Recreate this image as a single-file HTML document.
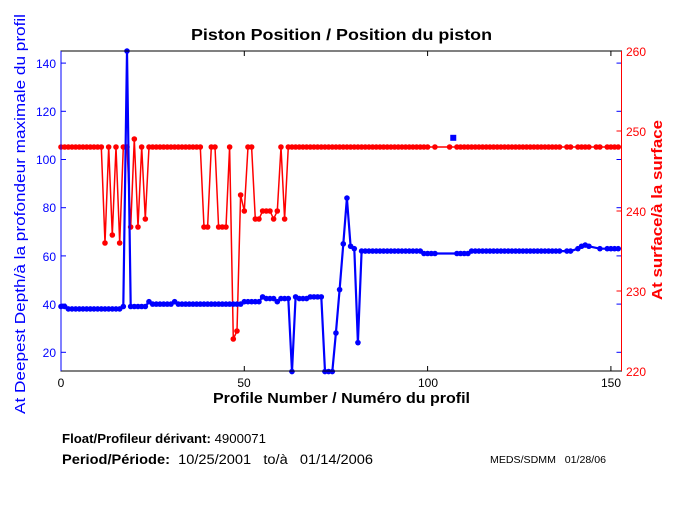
<!DOCTYPE html>
<html><head><meta charset="utf-8"><style>
html,body{margin:0;padding:0;background:#fff;}
body{width:680px;height:500px;overflow:hidden;font-family:"Liberation Sans",Arial,sans-serif;}
</style></head><body>
<svg id="s" width="680" height="500" xmlns="http://www.w3.org/2000/svg" font-family="Liberation Sans, Arial, sans-serif">
<rect width="680" height="500" fill="#fff"/>
<text x="191" y="40" font-size="16" font-weight="bold" textLength="301" lengthAdjust="spacingAndGlyphs">Piston Position / Position du piston</text>
<g id="plot"></g>
<rect x="61" y="51" width="560.5" height="320" fill="none" stroke="#000" stroke-width="1"/>
<line x1="621.5" y1="51" x2="621.5" y2="371" stroke="#f00" stroke-width="1"/>
<line x1="61" y1="51" x2="61" y2="371" stroke="#00f" stroke-width="1"/>
<g font-size="12" fill="#00f" text-anchor="end">
<text x="56" y="68">140</text><text x="56" y="116">120</text><text x="56" y="164">100</text>
<text x="56" y="212">80</text><text x="56" y="261">60</text><text x="56" y="309">40</text><text x="56" y="357">20</text>
</g>
<g font-size="12" fill="#f00">
<text x="626" y="56">260</text><text x="626" y="136">250</text><text x="626" y="216">240</text>
<text x="626" y="296">230</text><text x="626" y="376">220</text>
</g>
<g font-size="12" fill="#000" text-anchor="middle">
<text x="61" y="387">0</text><text x="244" y="387">50</text><text x="428" y="387">100</text><text x="611" y="387">150</text>
</g>
<text x="213" y="403" font-size="15" font-weight="bold" textLength="257" lengthAdjust="spacingAndGlyphs">Profile Number / Numéro du profil</text>
<text transform="translate(25,414) rotate(-90)" font-size="15" fill="#00f" textLength="400" lengthAdjust="spacingAndGlyphs">At Deepest Depth/à la profondeur maximale du profil</text>
<text transform="translate(662,300) rotate(-90)" font-size="15" font-weight="bold" fill="#f00" textLength="180" lengthAdjust="spacingAndGlyphs">At surface/à la surface</text>
<text x="62" y="443" font-size="13" textLength="204" lengthAdjust="spacingAndGlyphs"><tspan font-weight="bold">Float/Profileur dérivant:</tspan> 4900071</text>
<text x="62" y="464" font-size="13.5" style="white-space:pre" textLength="311" lengthAdjust="spacingAndGlyphs"><tspan font-weight="bold">Period/Période:</tspan>  10/25/2001   to/à   01/14/2006</text>
<text x="490" y="463" font-size="10" style="white-space:pre" textLength="116" lengthAdjust="spacingAndGlyphs">MEDS/SDMM   01/28/06</text>
</svg>
<script>
var g=document.getElementById('plot'),NS='http://www.w3.org/2000/svg';
function X(p){return 61+p*3.666;}
function YL(v){return 352.3-(v-20)*2.41;}
function YR(v){return 51+(260-v)*8;}
function el(n,a){var e=document.createElementNS(NS,n);for(var k in a)e.setAttribute(k,a[k]);g.appendChild(e);return e;}
[0,50,100,150].forEach(function(p){el('line',{x1:X(p),x2:X(p),y1:51,y2:56,stroke:'#000'});el('line',{x1:X(p),x2:X(p),y1:371,y2:366,stroke:'#000'});});
[20,40,60,80,100,120,140].forEach(function(v){el('line',{x1:61,x2:66,y1:YL(v),y2:YL(v),stroke:'#00f'});el('line',{x1:621.5,x2:616.5,y1:YL(v),y2:YL(v),stroke:'#00f'});});
[220,230,240,250,260].forEach(function(v){el('line',{x1:621.5,x2:616.5,y1:YR(v),y2:YR(v),stroke:'#f00'});});
var red={};for(var p=0;p<=152;p++)red[p]=248;
var rs={12:236,14:237,16:236,19:238,20:249,21:238,23:239,39:238,40:238,43:238,44:238,45:238,47:224,48:225,49:242,50:240,53:239,54:239,55:240,56:240,57:240,58:239,59:240,61:239};
for(var k in rs)red[k]=rs[k];
[101,103,104,105,107,137,140,145,148].forEach(function(p){delete red[p];});
var blue={};
for(p=0;p<=152;p++){
 var v;
 if(p<2)v=39;else if(p<17)v=38;else if(p<24)v=39;else if(p<50)v=40;else if(p<55)v=41;else if(p<75)v=42.3;else if(p<82)v=63;else if(p<108)v=62;else if(p<141)v=62;else v=63;
 blue[p]=v;
}
var bs={17:39,18:145,24:41,31:41,55:43,59:41,63:12,64:43,68:43,69:43,70:43,71:43,72:12,73:12,74:12,75:28,76:46,77:65,78:84,79:64,80:63,81:24,99:61,100:61,101:61,102:61,108:61,109:61,110:61,111:61,142:64,143:64.5,144:64};
for(k in bs)blue[k]=bs[k];
[103,104,105,106,107,137,140,145,146,148].forEach(function(p){delete blue[p];});
function draw(d,Y,c,w){
 var pts=[];
 for(var p=0;p<=152;p++){if(d[p]===undefined)continue;pts.push([X(p),Y(d[p])]);}
 var s='';pts.forEach(function(q,i){s+=(i?'L':'M')+q[0].toFixed(1)+' '+q[1].toFixed(1);});
 el('path',{d:s,fill:'none',stroke:c,'stroke-width':w});
 pts.forEach(function(q){el('circle',{cx:q[0],cy:q[1],r:2.8,fill:c});});
}
draw(red,YR,'#f00',1.5);
draw(blue,YL,'#00f',2.2);
el('rect',{x:X(107)-3,y:YL(109)-3,width:6,height:6,fill:'#00f'});
</script>
</body></html>
